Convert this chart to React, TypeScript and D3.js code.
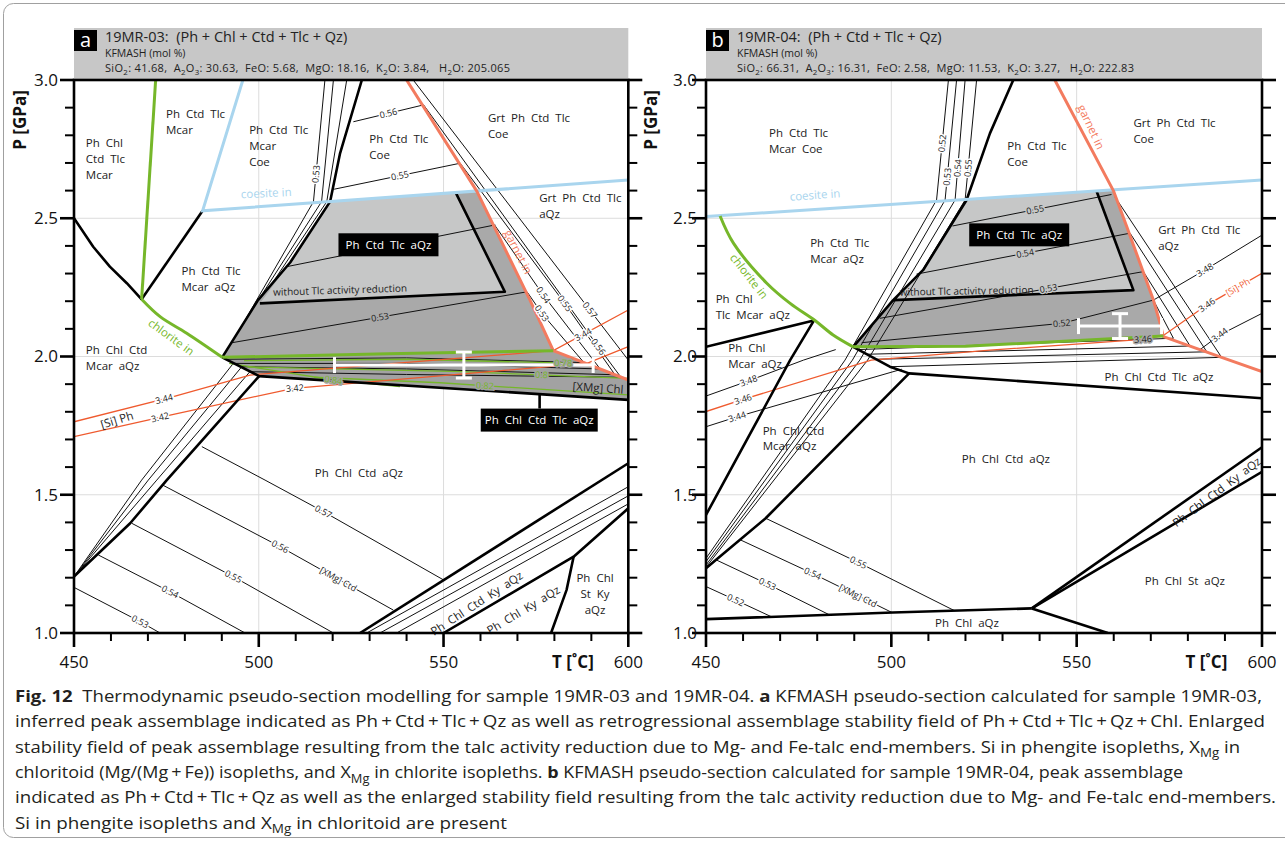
import React from 'react';
import * as d3 from 'd3';

type Pt = [number, number];

const FONT = "'Open Sans', 'Noto Sans', sans-serif";
const TOP = 80;
const BOTTOM = 633;

const T_DOMAIN: Pt = [450, 600];
const P_DOMAIN: Pt = [1, 3];
const T_LABELS = [450, 500, 550, 600];
const P_LABELS = [1.0, 1.5, 2.0, 2.5, 3.0];
const T_GRID = [500, 550];
const P_GRID = [1.5, 2.0, 2.5];

const C_THICK = '#000';
const C_GREEN = '#76b72a';
const C_BLUE = '#a9d5ee';
const C_GRT = '#f37b5f';
const C_SI = '#ef5a2e';
const C_LIGHT = '#c6c7c7';
const C_DARK = '#a9a9a9';
const C_BAND = '#a2a2a2';

// ---------------- panel a : 19MR-03 ----------------
const aFieldDark: Pt[] = [[519.3, 2.562], [559, 2.598], [573.4, 2.204], [579.7, 2.021], [535, 2.01], [490.1, 1.997], [499.8, 2.204], [508.5, 2.34]];
const aFieldLight: Pt[] = [[519.3, 2.562], [553.4, 2.592], [566.6, 2.234], [500.3, 2.192], [508.5, 2.34]];
const aFieldBand: Pt[] = [[490.1, 1.997], [579.7, 2.021], [600, 1.915], [600, 1.843], [500.1, 1.929]];

const aMcarOut: Pt[] = [[450, 2.5], [455.2, 2.397], [459.7, 2.325], [464.3, 2.265], [468.3, 2.207]];
const aQzCoe: Pt[] = [[468.3, 2.207], [484.8, 2.527]];
const aCtdBound: Pt[] = [[527.9, 3.0], [522, 2.735], [519.3, 2.56], [508.5, 2.34], [499.8, 2.204], [490.1, 1.997]];
const aNoRed: Pt[] = [[500.3, 2.192], [566.6, 2.234], [553.4, 2.59]];
const aBandBase: Pt[] = [[490.1, 1.997], [500.1, 1.929], [600, 1.843]];
const aMcarLow: Pt[] = [[500.1, 1.929], [484.6, 1.696], [475.1, 1.553], [465.2, 1.397], [450, 1.204]];
const aKyUpper: Pt[] = [[527.4, 1.0], [600, 1.614]];
const aKyLower: Pt[] = [[550, 1.0], [585.2, 1.276], [600, 1.451]];
const aStIn: Pt[] = [[585.2, 1.276], [583.3, 1.156], [579.1, 1.0]];
const aLeader: Pt[] = [[576, 1.862], [576, 1.812]];

const aChlUp: Pt[] = [[472.1, 3.0], [468.3, 2.207]];
const aChlIn: Pt[] = [[468.3, 2.207], [473.3, 2.144], [480.5, 2.084], [490.1, 1.997]];
const aChlTop: Pt[] = [[490.1, 1.997], [535, 2.01], [579.7, 2.021]];
const aCoeIn: Pt[] = [[495.7, 3.0], [484.8, 2.527], [600, 2.638]];
const aGrtIn: Pt[] = [[540, 3.0], [559, 2.598], [573.4, 2.204], [579.7, 2.021], [600, 1.915]];

// chloritoid XMg isopleths
const aU53: Pt[] = [[517.9, 3.0], [514.8, 2.56], [494.5, 2.09]];
const aU54: Pt[] = [[520.2, 3.0], [517.0, 2.56], [497.3, 2.15]];
const aU55: Pt[] = [[523.8, 3.0], [518.4, 2.56], [503.4, 2.26]];
const aC56: Pt[] = [[525.6, 2.849], [544.6, 2.91]];
const aC55: Pt[] = [[520.4, 2.605], [554.5, 2.699]];
const aC54: Pt[] = [[507.6, 2.325], [564, 2.476]];
const aC53: Pt[] = [[492.8, 2.05], [572.6, 2.234]];
const aG53: Pt[] = [[572.6, 2.234], [576.6, 2.156], [588, 1.978]];
const aG54: Pt[] = [[563.8, 2.476], [577, 2.222], [592.4, 1.955]];
const aG55: Pt[] = [[554.5, 2.699], [582.8, 2.192], [596.4, 1.934]];
const aG56: Pt[] = [[544.6, 2.91], [591.9, 2.035], [598, 1.925]];
const aG57: Pt[] = [[541.8, 3.0], [589.6, 2.168], [600, 1.987]];
const aB1: Pt[] = [[491.5, 1.99], [540, 1.995], [588, 1.978]];
const aB2: Pt[] = [[592.4, 1.955], [540, 1.975], [493.1, 1.975], [468.3, 1.553], [450, 1.204]];
const aB3: Pt[] = [[596.4, 1.934], [540, 1.955], [495.4, 1.963], [470.1, 1.553], [450, 1.204]];
const aB4: Pt[] = [[598, 1.925], [540, 1.935], [497.6, 1.945], [472.4, 1.553], [450, 1.204]];
const aL53: Pt[] = [[450, 1.165], [467.9, 1.041], [473.3, 1.0]];
const aL54: Pt[] = [[456.6, 1.282], [476, 1.149], [496.3, 1.0]];
const aL55: Pt[] = [[465.6, 1.397], [493.1, 1.204], [520.2, 1.0]];
const aL56: Pt[] = [[474, 1.535], [505.8, 1.312], [536.4, 1.083]];
const aL57: Pt[] = [[484.6, 1.674], [501.7, 1.553], [517.5, 1.439], [550, 1.192]];
const aKy1: Pt[] = [[529.2, 1.0], [600, 1.529]];
const aKy2: Pt[] = [[532.8, 1.0], [600, 1.496]];
const aKy3: Pt[] = [[537.3, 1.0], [600, 1.467]];

// Si in phengite
const aSi344: Pt[] = [[450, 1.764], [476.9, 1.855], [497.6, 1.933], [579.7, 2.021], [600, 2.168]];
const aSi342: Pt[] = [[450, 1.71], [476, 1.788], [509.4, 1.885], [588.8, 1.975], [600, 2.036]];

// XMg in chlorite
const aX078: Pt[] = [[496, 1.985], [540, 1.99], [584, 1.976]];
const aX080: Pt[] = [[497, 1.962], [555, 1.945], [600, 1.921]];
const aX082: Pt[] = [[515, 1.925], [549.1, 1.905], [600, 1.861]];
const aX084: Pt[] = [[492, 1.975], [520.2, 1.915], [538.2, 1.891]];

// ---------------- panel b : 19MR-04 ----------------
const bFieldDark: Pt[] = [[520.3, 2.568], [559.9, 2.6], [563.5, 2.47], [570.7, 2.204], [572.5, 2.12], [573.4, 2.074], [520, 2.037], [489.7, 2.035], [500.5, 2.204], [508.6, 2.313]];
const bFieldLight: Pt[] = [[520.3, 2.568], [555.4, 2.597], [565.3, 2.24], [500.5, 2.204], [508.6, 2.313]];

const bTlcMcar: Pt[] = [[450, 2.035], [479.1, 2.13]];
const bMcarOut: Pt[] = [[479.1, 2.13], [472.7, 1.987], [450, 1.427]];
const bCtdBound: Pt[] = [[532.9, 3.0], [526.6, 2.807], [520.3, 2.566], [508.6, 2.313], [500.5, 2.204], [489.7, 2.035]];
const bNoRed: Pt[] = [[500.5, 2.204], [565.3, 2.24], [555.4, 2.597]];
const bBandBase: Pt[] = [[489.7, 2.035], [499.6, 1.963], [504.8, 1.939], [600, 1.849]];
const bMcarLow: Pt[] = [[504.8, 1.939], [466.1, 1.415], [450, 1.234]];
const bChlBase: Pt[] = [[450, 1.05], [500.4, 1.074], [537.9, 1.089]];
const bStOut: Pt[] = [[537.9, 1.089], [558.4, 1.0]];
const bKyUpper: Pt[] = [[537.9, 1.089], [600, 1.672]];
const bKyLower: Pt[] = [[537.9, 1.089], [600, 1.583]];

const bCoeIn: Pt[] = [[450, 2.506], [600, 2.638]];
const bChlIn: Pt[] = [[453.8, 2.508], [457.4, 2.41], [466.4, 2.265], [472.7, 2.192], [479.4, 2.13], [484.3, 2.078], [489.7, 2.035]];
const bChlTop: Pt[] = [[489.7, 2.035], [520, 2.037], [573.4, 2.074]];
const bGrtIn: Pt[] = [[544.1, 3.0], [559.9, 2.6], [563.5, 2.47], [570.7, 2.204], [572.5, 2.12], [573.4, 2.072], [589.1, 1.997], [600, 1.945]];

const bU52: Pt[] = [[515.4, 3.0], [512.2, 2.566], [487.5, 1.987], [450, 1.27]];
const bU53: Pt[] = [[517.6, 3.0], [514.5, 2.566], [489.5, 1.987], [450, 1.258]];
const bU54: Pt[] = [[519.9, 3.0], [517.2, 2.566], [491.5, 1.987], [450, 1.246]];
const bU55: Pt[] = [[523.0, 3.0], [519.9, 2.566], [493.6, 1.987], [450, 1.238]];
const bC55: Pt[] = [[516.5, 2.472], [559.4, 2.586]];
const bC54: Pt[] = [[506.8, 2.298], [564.4, 2.446]];
const bC53: Pt[] = [[496.9, 2.138], [568.0, 2.307]];
const bC52: Pt[] = [[492, 2.05], [546, 2.12], [570.7, 2.204]];
const bG55: Pt[] = [[560.3, 2.578], [589.1, 1.997]];
const bG54: Pt[] = [[564.4, 2.446], [585.1, 2.017]];
const bG53: Pt[] = [[568.0, 2.307], [580.6, 2.038]];
const bG52: Pt[] = [[570.7, 2.204], [576.1, 2.066]];
const bB1: Pt[] = [[491, 2.025], [576.1, 2.066]];
const bB2: Pt[] = [[493, 2.008], [580.6, 2.038]];
const bB3: Pt[] = [[496, 1.99], [585.1, 2.017]];
const bB4: Pt[] = [[499.6, 1.963], [589.1, 1.997]];
const bL52: Pt[] = [[450, 1.168], [458, 1.119], [467.6, 1.059]];
const bL53: Pt[] = [[452.8, 1.264], [466.6, 1.177], [483.4, 1.065]];
const bL54: Pt[] = [[459.4, 1.336], [478.8, 1.215], [500.2, 1.074]];
const bL55: Pt[] = [[466.1, 1.415], [491.1, 1.255], [517, 1.081]];

const bSi348L: Pt[] = [[450, 1.857], [461.5, 1.912], [476.3, 1.987], [485, 2.025]];
const bSi348R: Pt[] = [[570.7, 2.204], [584.6, 2.313], [600, 2.439]];
const bSi346: Pt[] = [[450, 1.801], [460, 1.845], [494.6, 1.987], [526.6, 2.023], [567.9, 2.062], [573.4, 2.076], [585.1, 2.186], [600, 2.301]];
const bSi344L: Pt[] = [[450, 1.746], [458.4, 1.782], [502.8, 1.954]];
const bSi344R: Pt[] = [[583, 2.022], [588.6, 2.078], [600, 2.156]];

// ---------------- labels ----------------
type Lbl = { t: number; p: number; lines: string[]; anchor?: string; rot?: number; color?: string; size?: number };
type Iso = { on: Pt[]; t?: number; p?: number; text: string; halo?: string; color?: string };
type Box = { t: number; p: number; text: string; w: number };

const aFieldLabels: Lbl[] = [
  { t: 453.2, p: 2.771, lines: ['Ph  Chl', 'Ctd  Tlc', 'Mcar'] },
  { t: 474.9, p: 2.876, lines: ['Ph  Ctd  Tlc', 'Mcar'] },
  { t: 497.4, p: 2.819, lines: ['Ph  Ctd  Tlc', 'Mcar', 'Coe'] },
  { t: 479.1, p: 2.309, lines: ['Ph  Ctd  Tlc', 'Mcar  aQz'] },
  { t: 529.9, p: 2.787, lines: ['Ph  Ctd  Tlc', 'Coe'] },
  { t: 562.0, p: 2.861, lines: ['Grt  Ph  Ctd  Tlc', 'Coe'] },
  { t: 575.9, p: 2.574, lines: ['Grt  Ph  Ctd  Tlc', 'aQz'] },
  { t: 453.2, p: 2.024, lines: ['Ph  Chl  Ctd', 'Mcar  aQz'] },
  { t: 527.1, p: 1.579, lines: ['Ph  Chl  Ctd  aQz'], anchor: 'middle' },
  { t: 591.0, p: 1.198, lines: ['Ph  Chl', 'St  Ky', 'aQz'], anchor: 'middle' },
  { t: 559.0, p: 1.107, lines: ['Ph  Chl  Ctd  Ky  aQz'], anchor: 'middle', rot: -33 },
  { t: 571.6, p: 1.083, lines: ['Ph  Chl  Ky  aQz'], anchor: 'middle', rot: -31 },
  { t: 522.0, p: 2.24, lines: ['without Tlc activity reduction'], anchor: 'middle', rot: -1.8, size: 10 },
  { t: 502.0, p: 2.591, lines: ['coesite in'], anchor: 'middle', rot: -2.5, color: C_BLUE },
  { t: 476.3, p: 2.07, lines: ['chlorite in'], anchor: 'middle', rot: 36, color: C_GREEN },
  { t: 570.2, p: 2.378, lines: ['garnet in'], anchor: 'middle', rot: 63, color: C_GRT },
  { t: 461.6, p: 1.77, lines: ['[Si] Ph'], anchor: 'middle', rot: -17 },
  { t: 591.8, p: 1.886, lines: ['[XMg] Chl'], anchor: 'middle', rot: 4 },
];

const aIsoLabels: Iso[] = [
  { on: aU53, p: 2.66, text: '0.53' },
  { on: aC56, t: 535.1, text: '0.56' },
  { on: aC55, t: 538.2, text: '0.55' },
  { on: aC53, t: 532.8, text: '0.53', halo: C_DARK },
  { on: aG53, t: 576.6, text: '0.53' },
  { on: aG54, t: 577.0, text: '0.54' },
  { on: aG55, t: 582.8, text: '0.55' },
  { on: aG56, t: 591.9, text: '0.56' },
  { on: aG57, t: 589.6, text: '0.57' },
  { on: aL53, t: 467.9, text: '0.53' },
  { on: aL54, t: 476.0, text: '0.54' },
  { on: aL55, t: 493.1, text: '0.55' },
  { on: aL56, t: 505.8, text: '0.56' },
  { on: aL56, t: 521.5, text: '[XMg] Ctd' },
  { on: aL57, t: 517.5, text: '0.57' },
  { on: aSi344, t: 474.4, text: '3.44' },
  { on: aSi342, t: 473.3, text: '3.42' },
  { on: aSi342, t: 509.8, text: '3.42' },
  { on: aSi344, t: 587.8, text: '3.44' },
  { on: aX084, t: 520.2, text: '0.84', halo: C_BAND, color: C_GREEN },
  { on: aX082, t: 561.2, text: '0.82', halo: C_BAND, color: C_GREEN },
  { on: aX080, t: 576.5, text: '0.8', halo: C_BAND, color: C_GREEN },
  { on: aX078, t: 582.4, text: '0.78', halo: C_BAND, color: C_GREEN },
];

const aBoxes: Box[] = [
  { t: 535.1, p: 2.404, text: 'Ph  Ctd  Tlc  aQz', w: 100 },
  { t: 575.9, p: 1.77, text: 'Ph  Chl  Ctd  Tlc  aQz', w: 117 },
];

const bFieldLabels: Lbl[] = [
  { t: 467.0, p: 2.807, lines: ['Ph  Ctd  Tlc', 'Mcar  Coe'] },
  { t: 478.1, p: 2.409, lines: ['Ph  Ctd  Tlc', 'Mcar  aQz'] },
  { t: 452.6, p: 2.207, lines: ['Ph  Chl', 'Tlc  Mcar  aQz'] },
  { t: 456.0, p: 2.030, lines: ['Ph  Chl', 'Mcar  aQz'] },
  { t: 531.3, p: 2.761, lines: ['Ph  Ctd  Tlc', 'Coe'] },
  { t: 565.3, p: 2.843, lines: ['Grt  Ph  Ctd  Tlc', 'Coe'] },
  { t: 572.0, p: 2.458, lines: ['Grt  Ph  Ctd  Tlc', 'aQz'] },
  { t: 572.2, p: 1.927, lines: ['Ph  Chl  Ctd  Tlc  aQz'], anchor: 'middle' },
  { t: 465.3, p: 1.732, lines: ['Ph  Chl  Ctd', 'Mcar  aQz'] },
  { t: 530.9, p: 1.628, lines: ['Ph  Chl  Ctd  aQz'], anchor: 'middle' },
  { t: 587.8, p: 1.51, lines: ['Ph  Chl  Ctd  Ky  aQz'], anchor: 'middle', rot: -37 },
  { t: 579.2, p: 1.188, lines: ['Ph  Chl  St  aQz'], anchor: 'middle' },
  { t: 520.4, p: 1.036, lines: ['Ph  Chl  aQz'], anchor: 'middle' },
  { t: 520.3, p: 2.237, lines: ['without Tlc activity reduction'], anchor: 'middle', rot: -1, size: 10 },
  { t: 479.4, p: 2.584, lines: ['coesite in'], anchor: 'middle', rot: -4, color: C_BLUE },
  { t: 461.6, p: 2.29, lines: ['chlorite in'], anchor: 'middle', rot: 52, color: C_GREEN },
  { t: 553.9, p: 2.83, lines: ['garnet in'], anchor: 'middle', rot: 65, color: C_GRT },
];

const bIsoLabels: Iso[] = [
  { on: bU52, p: 2.771, text: '0.52' },
  { on: bU53, p: 2.65, text: '0.53' },
  { on: bU54, p: 2.681, text: '0.54' },
  { on: bU55, p: 2.681, text: '0.55' },
  { on: bC55, t: 538.8, text: '0.55', halo: C_LIGHT },
  { on: bC54, t: 536.1, text: '0.54', halo: C_LIGHT },
  { on: bC53, t: 542.4, text: '0.53', halo: C_LIGHT },
  { on: bC52, t: 546.0, text: '0.52', halo: C_DARK },
  { on: bL52, t: 458.0, text: '0.52' },
  { on: bL53, t: 466.6, text: '0.53' },
  { on: bL54, t: 478.8, text: '0.54' },
  { on: bL54, t: 491.0, text: '[XMg] Ctd' },
  { on: bL55, t: 491.1, text: '0.55' },
  { on: bSi348L, t: 461.5, text: '3.48' },
  { on: bSi348R, t: 584.6, text: '3.48' },
  { on: bSi346, t: 460.0, text: '3.46' },
  { on: bSi346, t: 567.9, text: '3.46', halo: C_DARK },
  { on: bSi346, t: 585.1, text: '3.46' },
  { on: bSi346, t: 593.5, text: '[Si] Ph', color: C_SI },
  { on: bSi344L, t: 458.4, text: '3.44' },
  { on: bSi344R, t: 588.6, text: '3.44' },
];

const bBoxes: Box[] = [{ t: 534.5, p: 2.44, text: 'Ph  Ctd  Tlc  aQz', w: 100 }];

// analytical P-T estimates [T, dT, P, dP]
const aErr = [555.5, 35, 1.969, 0.047];
const bErr = [561.7, 11.2, 2.11, 0.045];

const aComp = 'SiO_2: 41.68,  A_2O_3: 30.63,  FeO: 5.68,  MgO: 18.16,  K_2O: 3.84,   H_2O: 205.065';
const bComp = 'SiO_2: 66.31,  A_2O_3: 16.31,  FeO: 2.58,  MgO: 11.53,  K_2O: 3.27,   H_2O: 222.83';

const CAPTION = [
  '**Fig. 12**  Thermodynamic pseudo-section modelling for sample 19MR-03 and 19MR-04. **a** KFMASH pseudo-section calculated for sample 19MR-03,',
  'inferred peak assemblage indicated as Ph\u2009+\u2009Ctd\u2009+\u2009Tlc\u2009+\u2009Qz as well as retrogressional assemblage stability field of Ph\u2009+\u2009Ctd\u2009+\u2009Tlc\u2009+\u2009Qz\u2009+\u2009Chl. Enlarged',
  'stability field of peak assemblage resulting from the talc activity reduction due to Mg- and Fe-talc end-members. Si in phengite isopleths, X_Mg in',
  'chloritoid (Mg/(Mg\u2009+\u2009Fe)) isopleths, and X_Mg in chlorite isopleths. **b** KFMASH pseudo-section calculated for sample 19MR-04, peak assemblage',
  'indicated as Ph\u2009+\u2009Ctd\u2009+\u2009Tlc\u2009+\u2009Qz as well as the enlarged stability field resulting from the talc activity reduction due to Mg- and Fe-talc end-members.',
  'Si in phengite isopleths and X_Mg in chloritoid are present',
];
const CAPTION_WIDTHS = [1247, 1250, 1225, 1168, 1261, 492];

function Rich({ str, x, y, size, width, color = '#222', adjust = 'spacingAndGlyphs' }: { str: string; x: number; y: number; size: number; width?: number; color?: string; adjust?: string }) {
  const parts = str.split(/(\*\*[^*]+\*\*|_Mg|_\d)/).filter(Boolean);
  const sh = size * 0.28;
  let down = false;
  const kids = parts.map((p, i) => {
    if (p.startsWith('_')) {
      down = true;
      return <tspan key={i} dy={sh} fontSize={size * 0.72}>{p.slice(1)}</tspan>;
    }
    const dy = down ? -sh : 0;
    down = false;
    if (p.startsWith('**')) return <tspan key={i} dy={dy} fontWeight="bold">{p.slice(2, -2)}</tspan>;
    return <tspan key={i} dy={dy}>{p}</tspan>;
  });
  const extra = width ? { textLength: width, lengthAdjust: adjust } : {};
  return (
    <text x={x} y={y} fontSize={size} fill={color} style={{ whiteSpace: 'pre' }} {...extra}>
      {kids}
    </text>
  );
}

type PanelProps = {
  left: number; right: number; letter: string; title: string; comp: string; compWidth: number;
  fills: [Pt[], string][]; thin: Pt[][]; si: Pt[][]; chlIso: Pt[][]; thick: Pt[][];
  green: Pt[][]; greenSmooth: Pt[][]; blue: Pt[][]; grt: Pt[][];
  iso: Iso[]; fields: Lbl[]; boxes: Box[]; err: number[]; tickRight: number; pLabelX: number;
};

function Panel(props: PanelProps) {
  const { left, right } = props;
  const x = d3.scaleLinear().domain(T_DOMAIN).range([left, right]);
  const y = d3.scaleLinear().domain(P_DOMAIN).range([BOTTOM, TOP]);
  const line = d3.line<Pt>().x(d => x(d[0])).y(d => y(d[1]));
  const smooth = d3.line<Pt>().x(d => x(d[0])).y(d => y(d[1])).curve(d3.curveCatmullRom.alpha(0.5));
  const clip = `clip-${props.letter}`;

  const locate = (l: Iso) => {
    const k = l.t !== undefined ? 0 : 1;
    const v = (l.t !== undefined ? l.t : l.p) as number;
    for (let i = 0; i < l.on.length - 1; i++) {
      const a = l.on[i], b = l.on[i + 1];
      if ((v - a[k]) * (v - b[k]) <= 0 && a[k] !== b[k]) {
        const f = (v - a[k]) / (b[k] - a[k]);
        const t = a[0] + f * (b[0] - a[0]);
        const p = a[1] + f * (b[1] - a[1]);
        let ang = (Math.atan2(y(b[1]) - y(a[1]), x(b[0]) - x(a[0])) * 180) / Math.PI;
        if (ang > 90) ang -= 180;
        if (ang < -90) ang += 180;
        return { px: x(t), py: y(p), ang };
      }
    }
    const a = l.on[0];
    return { px: x(a[0]), py: y(a[1]), ang: 0 };
  };

  const minorP = d3.range(10, 31).map(v => v / 10);
  const minorT = d3.range(450, 601, 10);
  const [eT, edT, eP, edP] = props.err;

  return (
    <g>
      <defs>
        <clipPath id={clip}>
          <rect x={left} y={TOP} width={right - left} height={BOTTOM - TOP} />
        </clipPath>
      </defs>
      {T_GRID.map(t => <line key={'gt' + t} x1={x(t)} x2={x(t)} y1={TOP} y2={BOTTOM} stroke="#dcdcdc" strokeWidth={1} />)}
      {P_GRID.map(p => <line key={'gp' + p} x1={left} x2={right} y1={y(p)} y2={y(p)} stroke="#dcdcdc" strokeWidth={1} />)}
      <g clipPath={`url(#${clip})`}>
        {props.fills.map(([pts, c], i) => <path key={'f' + i} d={line(pts) + 'Z'} fill={c} />)}
        {props.thin.map((pts, i) => <path key={'t' + i} d={line(pts) || ''} fill="none" stroke="#111" strokeWidth={1} />)}
        {props.chlIso.map((pts, i) => <path key={'c' + i} d={line(pts) || ''} fill="none" stroke={C_GREEN} strokeWidth={1.3} />)}
        {props.si.map((pts, i) => <path key={'s' + i} d={line(pts) || ''} fill="none" stroke={C_SI} strokeWidth={1.3} />)}
        {props.thick.map((pts, i) => <path key={'k' + i} d={line(pts) || ''} fill="none" stroke={C_THICK} strokeWidth={2.6} strokeLinejoin="round" />)}
        {props.blue.map((pts, i) => <path key={'b' + i} d={line(pts) || ''} fill="none" stroke={C_BLUE} strokeWidth={3} />)}
        {props.grt.map((pts, i) => <path key={'r' + i} d={line(pts) || ''} fill="none" stroke={C_GRT} strokeWidth={3} strokeLinejoin="round" />)}
        {props.green.map((pts, i) => <path key={'g' + i} d={line(pts) || ''} fill="none" stroke={C_GREEN} strokeWidth={3} />)}
        {props.greenSmooth.map((pts, i) => <path key={'gs' + i} d={smooth(pts) || ''} fill="none" stroke={C_GREEN} strokeWidth={3} />)}
        <g stroke="#fff" strokeWidth={3} fill="none">
          <line x1={x(eT - edT)} x2={x(eT + edT)} y1={y(eP)} y2={y(eP)} />
          <line x1={x(eT - edT)} x2={x(eT - edT)} y1={y(eP) - 8} y2={y(eP) + 8} />
          <line x1={x(eT + edT)} x2={x(eT + edT)} y1={y(eP) - 8} y2={y(eP) + 8} />
          <line x1={x(eT)} x2={x(eT)} y1={y(eP - edP)} y2={y(eP + edP)} />
          <line x1={x(eT) - 8} x2={x(eT) + 8} y1={y(eP - edP)} y2={y(eP - edP)} />
          <line x1={x(eT) - 8} x2={x(eT) + 8} y1={y(eP + edP)} y2={y(eP + edP)} />
        </g>
      </g>

      {props.iso.map((l, i) => {
        const { px, py, ang } = locate(l);
        return (
          <text key={'il' + i} x={px} y={py} dy="0.35em" textAnchor="middle" fontSize={9} fill={l.color || '#222'}
            stroke={l.halo || '#fff'} strokeWidth={3} paintOrder="stroke" transform={`rotate(${ang} ${px} ${py})`}>
            {l.text}
          </text>
        );
      })}

      {props.fields.map((l, i) => {
        const px = x(l.t), py = y(l.p);
        const fs = l.size || 11.5;
        return (
          <text key={'fl' + i} x={px} y={py} fontSize={fs} fill={l.color || '#222'} textAnchor={l.anchor || 'start'}
            transform={l.rot ? `rotate(${l.rot} ${px} ${py})` : undefined} style={{ whiteSpace: 'pre' }}>
            {l.lines.map((s, j) => <tspan key={j} x={px} dy={j === 0 ? '0.35em' : 15.8}>{s}</tspan>)}
          </text>
        );
      })}

      {props.boxes.map((b, i) => (
        <g key={'bx' + i}>
          <rect x={x(b.t) - b.w / 2} y={y(b.p) - 11.5} width={b.w} height={23} fill="#000" />
          <text x={x(b.t)} y={y(b.p)} dy="0.35em" textAnchor="middle" fontSize={11.5} fill="#fff" style={{ whiteSpace: 'pre' }}>{b.text}</text>
        </g>
      ))}

      {/* header */}
      <rect x={left} y={28} width={right - left} height={TOP - 28} fill="#c7c7c7" />
      <rect x={left} y={30} width={23} height={21} fill="#000" />
      <text x={left + 11.5} y={47} textAnchor="middle" fontSize={20} fill="#fff">{props.letter}</text>
      <text x={left + 31} y={42} fontSize={14.5} fill="#222" style={{ whiteSpace: 'pre' }}>{props.title}</text>
      <text x={left + 31} y={57} fontSize={10.5} fill="#222">KFMASH (mol %)</text>
      <Rich str={props.comp} x={left + 31} y={72} size={11} width={props.compWidth} adjust="spacing" />

      {/* axes */}
      <g stroke="#000" fill="none">
        <rect x={left} y={TOP} width={right - left} height={BOTTOM - TOP} strokeWidth={2.6} />
        {minorP.map(p => {
          const major = Math.abs(p * 2 - Math.round(p * 2)) < 1e-6;
          const len = major ? 14 : 9;
          return (
            <g key={'tp' + p} strokeWidth={major ? 2.6 : 2}>
              <line x1={left - len} x2={left} y1={y(p)} y2={y(p)} />
              <line x1={right} x2={right + len} y1={y(p)} y2={y(p)} />
            </g>
          );
        })}
        {minorT.map(t => {
          const major = t % 50 === 0;
          return <line key={'tt' + t} x1={x(t)} x2={x(t)} y1={BOTTOM} y2={BOTTOM + (major ? 14 : 8)} strokeWidth={major ? 2.6 : 2} />;
        })}
      </g>
      {P_LABELS.map(p => (
        <text key={'lp' + p} x={props.tickRight} y={y(p)} dy="0.35em" textAnchor="end" fontSize={17} fill="#111">{p.toFixed(1)}</text>
      ))}
      {T_LABELS.map(t => (
        <text key={'lt' + t} x={x(t)} y={668} textAnchor="middle" fontSize={17} fill="#111">{t}</text>
      ))}
      <text x={x(585)} y={668} textAnchor="middle" fontSize={17} fontWeight="bold" fill="#111">T [˚C]</text>
      <text x={props.pLabelX} y={120} textAnchor="middle" fontSize={17} fontWeight="bold" fill="#111"
        transform={`rotate(-90 ${props.pLabelX} 120)`} dy="0.35em">P [GPa]</text>
    </g>
  );
}

export default function App() {
  return (
    <svg width={1285} height={845} style={{ position: 'absolute', left: 0, top: 0, fontFamily: FONT, background: '#fff' }}>
      <rect x={3.5} y={3.5} width={1300} height={834} rx={10} fill="#fff" stroke="#a0a0a0" strokeWidth={1} />
      <Panel
        left={74} right={628.3} letter="a" title="19MR-03:  (Ph + Chl + Ctd + Tlc + Qz)" comp={aComp} compWidth={405}
        fills={[[aFieldDark, C_DARK], [aFieldLight, C_LIGHT], [aFieldBand, C_BAND]]}
        thin={[aU53, aU54, aU55, aC56, aC55, aC54, aC53, aG53, aG54, aG55, aG56, aG57, aB1, aB2, aB3, aB4, aL53, aL54, aL55, aL56, aL57, aKy1, aKy2, aKy3]}
        si={[aSi344, aSi342]} chlIso={[aX078, aX080, aX082, aX084]}
        thick={[aMcarOut, aQzCoe, aCtdBound, aNoRed, aBandBase, aMcarLow, aKyUpper, aKyLower, aStIn, aLeader]}
        green={[aChlUp, aChlTop]} greenSmooth={[aChlIn]} blue={[aCoeIn]} grt={[aGrtIn]}
        iso={aIsoLabels} fields={aFieldLabels} boxes={aBoxes} err={aErr} tickRight={58} pLabelX={20}
      />
      <Panel
        left={706} right={1262} letter="b" title="19MR-04:  (Ph + Ctd + Tlc + Qz)" comp={bComp} compWidth={397}
        fills={[[bFieldDark, C_DARK], [bFieldLight, C_LIGHT]]}
        thin={[bU52, bU53, bU54, bU55, bC55, bC54, bC53, bC52, bG55, bG54, bG53, bG52, bB1, bB2, bB3, bB4, bL52, bL53, bL54, bL55, bSi348L, bSi348R, bSi344L, bSi344R]}
        si={[bSi346]} chlIso={[]}
        thick={[bTlcMcar, bMcarOut, bCtdBound, bNoRed, bBandBase, bMcarLow, bChlBase, bStOut, bKyUpper, bKyLower]}
        green={[bChlTop]} greenSmooth={[bChlIn]} blue={[bCoeIn]} grt={[bGrtIn]}
        iso={bIsoLabels} fields={bFieldLabels} boxes={bBoxes} err={bErr} tickRight={697} pLabelX={651}
      />
      {CAPTION.map((s, i) => (
        <Rich key={i} str={s} x={15} y={702 + i * 25.3} size={16.5} width={CAPTION_WIDTHS[i] || undefined} color="#231f20" />
      ))}
    </svg>
  );
}
